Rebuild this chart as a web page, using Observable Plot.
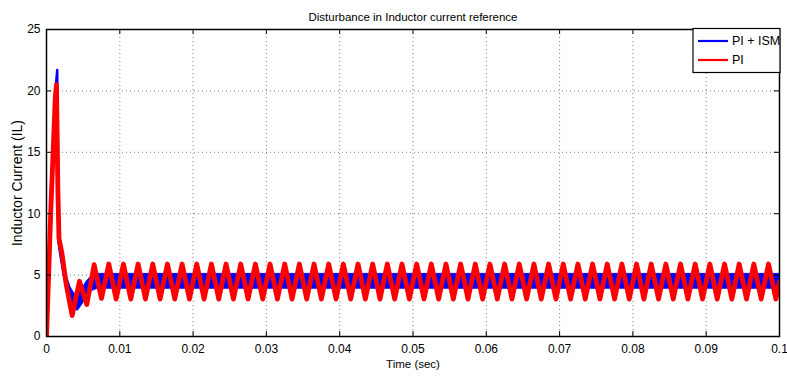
<!DOCTYPE html>
<html><head><meta charset="utf-8">
<script src="https://cdn.jsdelivr.net/npm/d3@7"></script>
<script src="https://cdn.jsdelivr.net/npm/@observablehq/plot@0.6"></script>
<style>
body{margin:0;background:#fff}
svg{font-family:"Liberation Sans",Arial,Helvetica,sans-serif}
</style>
</head><body><div id="chart"></div>
<script>
const title = "Disturbance in Inductor current reference";
const xLabel = "Time (sec)";
const yLabel = "Inductor Current (IL)";
const xTicks = [0, 0.01, 0.02, 0.03, 0.04, 0.05, 0.06, 0.07, 0.08, 0.09, 0.1];
const xTickLabels = ["0", "0.01", "0.02", "0.03", "0.04", "0.05", "0.06", "0.07", "0.08", "0.09", "0.1"];
const yTicks = [0, 5, 10, 15, 20, 25];
const seriesNames = ["PI + ISM", "PI"];
const seriesColors = ["#0000ff", "#ff0000"];

// PI + ISM : start-up spike
const blueSpikeT = [0, 0.00035, 0.0006, 0.0009, 0.00125, 0.00146, 0.0016, 0.0017];
const blueSpikeV = [0, 6, 10.5, 15, 20.2, 21.7, 13, 8.1];
// PI + ISM : switching-ripple band (lower / upper envelope)
const blueBandT  = [0.0016, 0.0019, 0.0023, 0.0028, 0.0033, 0.0038, 0.0043, 0.0049, 0.0055, 0.0062, 0.007, 0.1];
const blueBandLo = [7.6, 6.4, 5.0, 3.6, 2.7, 2.2, 2.1, 2.6, 3.2, 3.7, 3.88, 3.88];
const blueBandHi = [8.6, 7.6, 6.3, 4.9, 4.0, 3.5, 3.4, 3.9, 4.5, 4.95, 5.1, 5.1];

// PI : samples at the turning points
const redT = [0, 0.00035, 0.0006, 0.0009, 0.0012, 0.00136, 0.00155, 0.0017, 0.0021, 0.0027, 0.0035, 0.0045, 0.0055,
  0.0065, 0.0075, 0.0085, 0.0095, 0.0105, 0.0115, 0.0125, 0.0135, 0.0145, 0.0155,
  0.0165, 0.0175, 0.0185, 0.0195, 0.0205, 0.0215, 0.0225, 0.0235, 0.0245, 0.0255,
  0.0265, 0.0275, 0.0285, 0.0295, 0.0305, 0.0315, 0.0325, 0.0335, 0.0345, 0.0355,
  0.0365, 0.0375, 0.0385, 0.0395, 0.0405, 0.0415, 0.0425, 0.0435, 0.0445, 0.0455,
  0.0465, 0.0475, 0.0485, 0.0495, 0.0505, 0.0515, 0.0525, 0.0535, 0.0545, 0.0555,
  0.0565, 0.0575, 0.0585, 0.0595, 0.0605, 0.0615, 0.0625, 0.0635, 0.0645, 0.0655,
  0.0665, 0.0675, 0.0685, 0.0695, 0.0705, 0.0715, 0.0725, 0.0735, 0.0745, 0.0755,
  0.0765, 0.0775, 0.0785, 0.0795, 0.0805, 0.0815, 0.0825, 0.0835, 0.0845, 0.0855,
  0.0865, 0.0875, 0.0885, 0.0895, 0.0905, 0.0915, 0.0925, 0.0935, 0.0945, 0.0955,
  0.0965, 0.0975, 0.0985, 0.0995, 0.1];
const redV = [0, 6, 10.5, 15, 19.5, 20.5, 12, 8, 6.8, 4.2, 1.7, 4.5, 2.6,
  5.85, 3.1, 5.9, 3.05, 5.9, 3.05, 5.9, 3.05, 5.9, 3.05,
  5.9, 3.05, 5.9, 3.05, 5.9, 3.05, 5.9, 3.05, 5.9, 3.05,
  5.9, 3.05, 5.9, 3.05, 5.9, 3.05, 5.9, 3.05, 5.9, 3.05,
  5.9, 3.05, 5.9, 3.05, 5.9, 3.05, 5.9, 3.05, 5.9, 3.05,
  5.9, 3.05, 5.9, 3.05, 5.9, 3.05, 5.9, 3.05, 5.9, 3.05,
  5.9, 3.05, 5.9, 3.05, 5.9, 3.05, 5.9, 3.05, 5.9, 3.05,
  5.9, 3.05, 5.9, 3.05, 5.9, 3.05, 5.9, 3.05, 5.9, 3.05,
  5.9, 3.05, 5.9, 3.05, 5.9, 3.05, 5.9, 3.05, 5.9, 3.05,
  5.9, 3.05, 5.9, 3.05, 5.9, 3.05, 5.9, 3.05, 5.9, 3.05,
  5.9, 3.05, 5.9, 3.05, 4.45];

const blueSpike = blueSpikeT.map((t, i) => ({t, v: blueSpikeV[i]}));
const blueBand = blueBandT.map((t, i) => ({t, lo: blueBandLo[i], hi: blueBandHi[i]}));
const red = redT.map((t, i) => ({t, v: redV[i]}));

const xMax = xTicks[xTicks.length - 1], yMax = yTicks[yTicks.length - 1];
const gridStyle = {stroke: "#808080", strokeWidth: 1, strokeDasharray: "1,3"};
const tickLenY = 0.4, tickLenX = 0.0007;

const chart = Plot.plot({
  width: 787, height: 380,
  marginLeft: 46, marginRight: 8, marginTop: 29, marginBottom: 44,
  x: {domain: [0, xMax]},
  y: {domain: [0, yMax]},
  style: {background: "white", color: "black", fontFamily: "'Liberation Sans', Arial, sans-serif", fontSize: "12px"},
  marks: [
    Plot.ruleX(xTicks.slice(1, -1), gridStyle),
    Plot.ruleY(yTicks.slice(1, -1), gridStyle),
    Plot.areaY(blueBand, {x: "t", y1: "lo", y2: "hi", fill: seriesColors[0], stroke: seriesColors[0], strokeWidth: 0.8, clip: true}),
    Plot.line(blueSpike, {x: "t", y: "v", stroke: seriesColors[0], strokeWidth: 2.5, clip: true}),
    Plot.line(red, {x: "t", y: "v", stroke: seriesColors[1], strokeWidth: 4.8, curve: "linear", clip: true}),
    Plot.ruleX(xTicks, {y1: 0, y2: tickLenY, stroke: "black"}),
    Plot.ruleX(xTicks, {y1: yMax, y2: yMax - tickLenY, stroke: "black"}),
    Plot.ruleY(yTicks, {x1: 0, x2: tickLenX, stroke: "black"}),
    Plot.ruleY(yTicks, {x1: xMax, x2: xMax - tickLenX, stroke: "black"}),
    Plot.frame({stroke: "black", strokeWidth: 1.5}),
    Plot.axisX(xTicks, {tickSize: 0, tickPadding: 8, fontSize: 12, tickFormat: d => xTickLabels[xTicks.indexOf(d)], label: null}),
    Plot.axisY(yTicks, {tickSize: 0, tickPadding: 6, fontSize: 12, tickFormat: d => String(d), label: null}),
    Plot.text([title], {frameAnchor: "top", dy: -17, fontSize: 11.5}),
    Plot.text([xLabel], {frameAnchor: "bottom", dy: 31, fontSize: 11.5})
  ]
});
document.getElementById("chart").appendChild(chart);

const svg = d3.select(chart);
// y-axis label, centred on the axes box
svg.append("text")
  .attr("transform", "translate(22,183) rotate(-90)")
  .attr("text-anchor", "middle").attr("font-size", 14).attr("fill", "black")
  .text(yLabel);

// legend (MATLAB-style box, top-right inside the axes)
const lg = svg.append("g").attr("transform", "translate(693,28.5)").attr("text-anchor", "start");
lg.append("rect").attr("width", 87).attr("height", 44).attr("fill", "white").attr("stroke", "black").attr("stroke-width", 1.2);
seriesNames.forEach((name, i) => {
  const y = 12.5 + i * 19;
  lg.append("line").attr("x1", 5).attr("x2", 35).attr("y1", y).attr("y2", y)
    .attr("stroke", seriesColors[i]).attr("stroke-width", 2.2);
  lg.append("text").attr("x", 39).attr("y", y).attr("dy", "0.35em").attr("text-anchor", "start")
    .attr("font-size", 12.5).attr("fill", "black").text(name);
});
</script>
</body></html>
